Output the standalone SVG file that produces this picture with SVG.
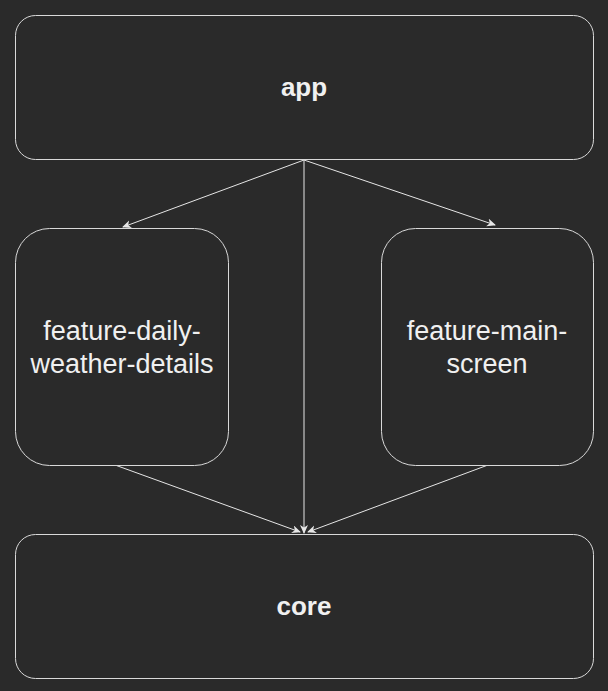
<svg xmlns="http://www.w3.org/2000/svg" width="608" height="691" viewBox="0 0 608 691">
<defs>
<style>
.box{fill:#2a2a2a;stroke:#d9d9d9;stroke-width:1}
.edge{fill:none;stroke:#e6e6e6;stroke-width:1}
.t{font-family:"Liberation Sans",Arial,sans-serif;fill:#f0f0f0;text-anchor:middle}
.b{font-weight:bold;font-size:26px}
.n{font-size:27px}
</style>
<marker id="arr" markerWidth="10" markerHeight="10" refX="8" refY="4" orient="auto" markerUnits="userSpaceOnUse">
<path d="M0,0 L9,4 L0,8 L2.5,4 Z" fill="#e6e6e6"/>
</marker>
</defs>
<rect width="608" height="691" fill="#2a2a2a"/>
<g id="connectors">
<line class="edge" x1="304" y1="160" x2="123" y2="227" marker-end="url(#arr)"/>
<line class="edge" x1="304" y1="160" x2="495" y2="225" marker-end="url(#arr)"/>
<line class="edge" x1="304" y1="160" x2="304" y2="533" marker-end="url(#arr)"/>
<line class="edge" x1="115" y1="465" x2="300" y2="532" marker-end="url(#arr)"/>
<line class="edge" x1="488" y1="465" x2="308" y2="532" marker-end="url(#arr)"/>
</g>
<g id="app">
<rect class="box" x="15.5" y="15.5" width="578" height="144" rx="20"/>
<text class="t b" x="304" y="96">app</text>
</g>
<g id="feature-daily-weather-details">
<rect class="box" x="15.5" y="228.5" width="213" height="237" rx="34"/>
<text class="t n" x="122" y="340">feature-daily-</text>
<text class="t n" x="122" y="373">weather-details</text>
</g>
<g id="feature-main-screen">
<rect class="box" x="381.5" y="228.5" width="212" height="237" rx="34"/>
<text class="t n" x="487" y="340">feature-main-</text>
<text class="t n" x="487" y="373">screen</text>
</g>
<g id="core">
<rect class="box" x="15.5" y="534.5" width="578" height="144" rx="20"/>
<text class="t b" x="304" y="615">core</text>
</g>
</svg>
